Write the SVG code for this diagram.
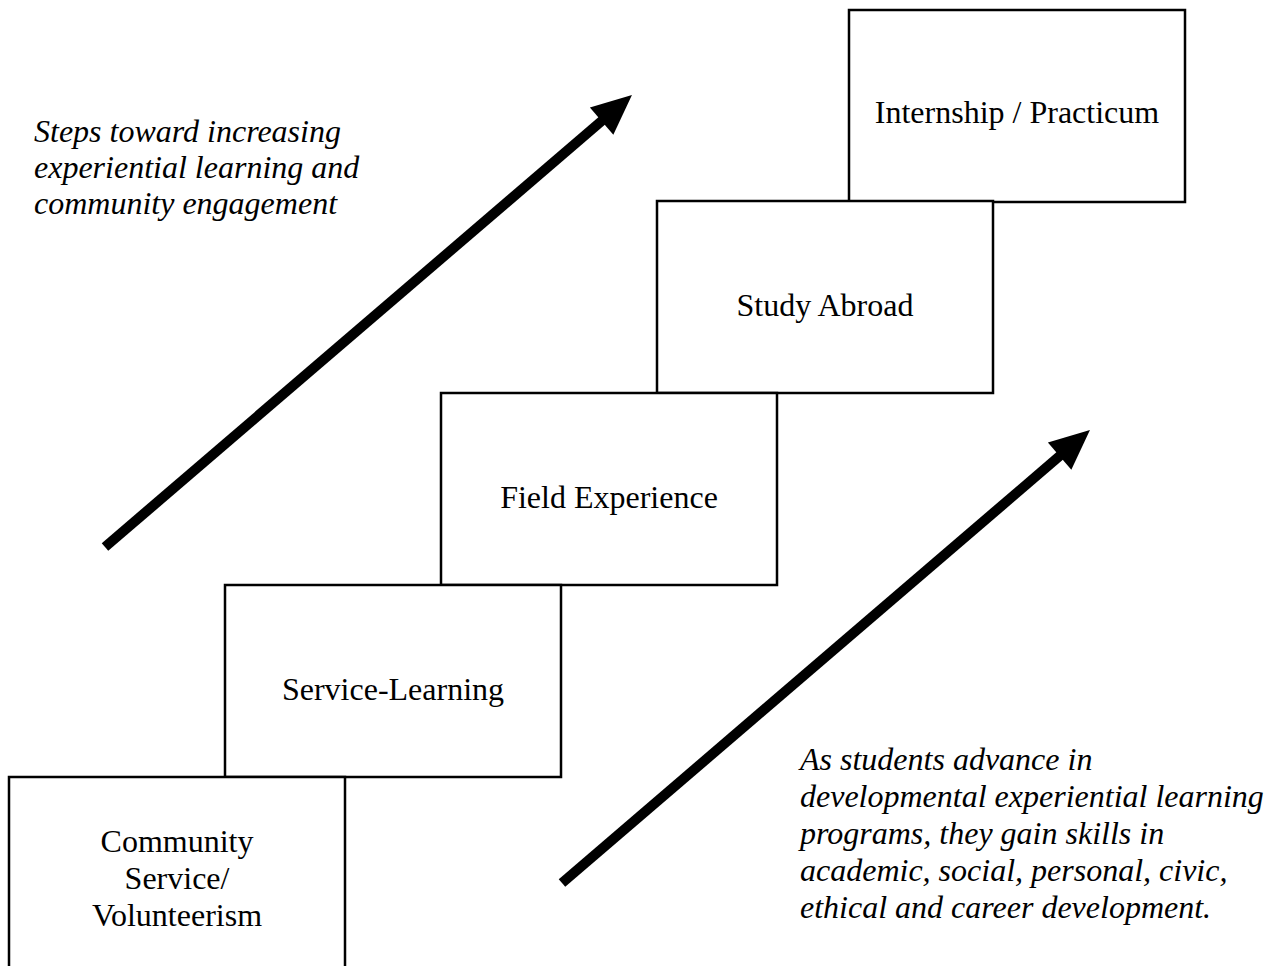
<svg xmlns="http://www.w3.org/2000/svg" width="1274" height="966" viewBox="0 0 1274 966">
<style>
.box{fill:#fff;stroke:#000;stroke-width:2.5}
.lbl{font-family:"Liberation Serif","Times New Roman",serif;font-size:32px;fill:#000;text-anchor:middle}
.note{font-family:"Liberation Serif","Times New Roman",serif;font-size:32px;font-style:italic;fill:#000}
.arr{stroke:#000;stroke-width:10;fill:none;marker-end:url(#head)}
</style>
<defs>
<marker id="head" markerUnits="userSpaceOnUse" markerWidth="50" markerHeight="40" refX="5" refY="18" orient="auto" overflow="visible">
<path d="M0,0 L40,18 L0,36 z" fill="#000"/>
</marker>
</defs>
<rect width="1274" height="966" fill="#fff"/>
<g id="n1">
<rect class="box" x="849" y="10" width="336" height="192"/>
<text class="lbl" x="1017" y="123">Internship / Practicum</text>
</g>
<g id="n2">
<rect class="box" x="657" y="201" width="336" height="192"/>
<text class="lbl" x="825" y="316">Study Abroad</text>
</g>
<g id="n3">
<rect class="box" x="441" y="393" width="336" height="192"/>
<text class="lbl" x="609" y="508">Field Experience</text>
</g>
<g id="n4">
<rect class="box" x="225" y="585" width="336" height="192"/>
<text class="lbl" x="393" y="700">Service-Learning</text>
</g>
<g id="n5">
<rect class="box" x="9" y="777" width="336" height="200"/>
<text class="lbl" x="177" y="852">Community</text>
<text class="lbl" x="177" y="889">Service/</text>
<text class="lbl" x="177" y="926">Volunteerism</text>
</g>
<g id="connectors">
<line class="arr" x1="105" y1="547" x2="605.4" y2="117.8"/>
<line class="arr" x1="562" y1="883" x2="1063.4" y2="452.8"/>
</g>
<g id="notes">
<text class="note" x="34" y="142">Steps toward increasing</text>
<text class="note" x="34" y="178">experiential learning and</text>
<text class="note" x="34" y="214">community engagement</text>
<text class="note" x="800" y="770">As students advance in</text>
<text class="note" x="800" y="807">developmental experiential learning</text>
<text class="note" x="800" y="844">programs, they gain skills in</text>
<text class="note" x="800" y="881">academic, social, personal, civic,</text>
<text class="note" x="800" y="918">ethical and career development.</text>
</g>
</svg>
